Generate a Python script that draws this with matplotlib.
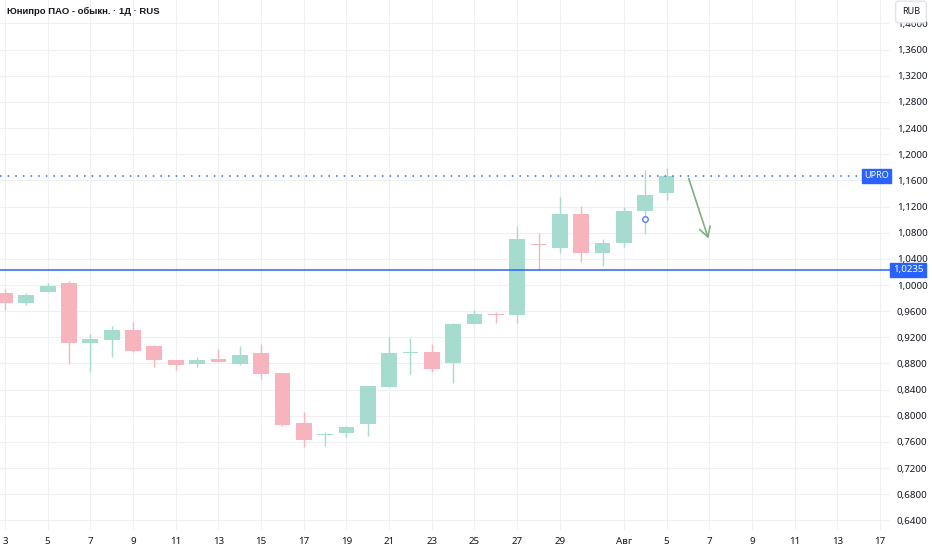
import matplotlib
matplotlib.use("Agg")
from matplotlib import pyplot as plt
import matplotlib.transforms as mtransforms

# daily candles, UPRO
opens = [0.9873, 0.9720, 0.9898, 1.0026, 0.9118, 0.9160, 0.9312, 0.9072, 0.8853, 0.8787,
         0.8873, 0.8792, 0.8965, 0.8650, 0.7885, 0.7712, 0.7732, 0.7870, 0.8445, 0.8965,
         0.8970, 0.8803, 0.9404, 0.9550, 0.9541, 1.0630, 1.0570, 1.1086, 1.0494, 1.0638,
         1.1136, 1.1402]
highs = [0.9939, 0.9880, 1.0026, 1.0060, 0.9250, 0.9378, 0.9440, 0.9078, 0.8860, 0.8904,
         0.9017, 0.9067, 0.9098, 0.8650, 0.8054, 0.7750, 0.7850, 0.8456, 0.9200, 0.9185,
         0.9098, 0.9420, 0.9620, 0.9580, 1.0902, 1.0800, 1.1340, 1.1208, 1.0703, 1.1188,
         1.1758, 1.1784]
lows = [0.9618, 0.9690, 0.9890, 0.8790, 0.8675, 0.8894, 0.8970, 0.8750, 0.8700, 0.8742,
        0.8820, 0.8780, 0.8558, 0.7850, 0.7518, 0.7537, 0.7680, 0.7690, 0.8445, 0.8639,
        0.8674, 0.8497, 0.9400, 0.9414, 0.9414, 1.0230, 1.0490, 1.0356, 1.0295, 1.0576,
        1.0780, 1.1300]
closes = [0.9720, 0.9847, 0.9985, 0.9108, 0.9170, 0.9312, 0.8996, 0.8853, 0.8777, 0.8853,
          0.8823, 0.8930, 0.8635, 0.7860, 0.7630, 0.7722, 0.7834, 0.8456, 0.8965, 0.8980,
          0.8716, 0.9404, 0.9557, 0.9535, 1.0703, 1.0615, 1.1086, 1.0490, 1.0638, 1.1136,
          1.1380, 1.1667]

tick_pos = [0, 2, 4, 6, 8, 10, 12, 14, 16, 18, 20, 22, 24, 26, 29, 31, 33, 35, 37, 39, 41]
tick_labels = ['3', '5', '7', '9', '11', '13', '15', '17', '19', '21', '23', '25', '27',
               '29', 'Авг', '5', '7', '9', '11', '13', '17']
price_ticks = [0.64 + 0.04 * k for k in range(20)]

level_price = 1.0235
last_price = 1.1667
event_bar, event_price = 30, 1.1009
arrow_from = (32, 1.1667)
arrow_to = (33, 1.0670)

GREEN = '#a6dbd0'
RED = '#f8b4bc'
BLUE = '#2962ff'
TEXT = '#131722'

plt.rcParams['font.family'] = ['Noto Sans', 'DejaVu Sans']

fig = plt.figure(figsize=(9.32, 5.5), dpi=100)
ax = fig.add_axes([0, 20 / 550, 890 / 932, 530 / 550])
ax.set_xlim(-0.234, 41.47)
ax.set_ylim(0.6254, 1.4358)
for s in ax.spines.values():
    s.set_visible(False)

ax.set_xticks(tick_pos)
ax.set_xticklabels(tick_labels)
ax.yaxis.tick_right()
ax.set_yticks(price_ticks)
ax.set_yticklabels([f"{p:.4f}".replace('.', ',') for p in price_ticks])
ax.tick_params(length=0, labelsize=7, labelcolor=TEXT)
ax.tick_params(axis='y', pad=5)
ax.tick_params(axis='x', pad=5)
ax.grid(True, color='#eef0f4', linewidth=0.8)
ax.set_axisbelow(True)

# candles
for i in range(len(opens)):
    o, h, l, c = opens[i], highs[i], lows[i], closes[i]
    col = GREEN if c >= o else RED
    ax.vlines(i, l, h, color=col, linewidth=1, zorder=2)
    body = max(abs(c - o), 0.0015)
    ax.bar(i, body, bottom=min(o, c), width=0.74, color=col, zorder=3)

# price lines
ax.axhline(level_price, color=BLUE, linewidth=1.1, zorder=4)
ax.axhline(last_price, color=BLUE, linewidth=1.1, linestyle=(0, (1, 4)), zorder=4)

trans = mtransforms.blended_transform_factory(ax.transAxes, ax.transData)
ax.text(0.999, last_price, 'UPRO', transform=trans, ha='right', va='center',
        fontsize=6.5, color='white', fontweight='bold', zorder=6,
        bbox=dict(boxstyle='square,pad=0.25', fc=BLUE, ec=BLUE))
ax.text(1.003, level_price, '1,0235', transform=trans, ha='left', va='center',
        fontsize=7, color='white', fontweight='bold', zorder=6, clip_on=False,
        bbox=dict(boxstyle='square,pad=0.25', fc=BLUE, ec=BLUE))

# event marker
ax.plot(event_bar, event_price, 'o', ms=4, mfc='white', mec='#5b7cf5', mew=1, zorder=5)

# forecast arrow
ax.annotate('', xy=arrow_to, xytext=arrow_from,
            arrowprops=dict(arrowstyle='->,head_length=0.7,head_width=0.4',
                            color='#7fb07d', lw=1.2), zorder=5)

fig.text(7 / 932, 1 - 11 / 550, 'Юнипро ПАО - обыкн. · 1Д · RUS', ha='left', va='center',
         fontsize=6.8, color=TEXT, fontweight='bold',
         family=['Liberation Sans', 'DejaVu Sans'])
fig.text(911 / 932, 1 - 12 / 550, 'RUB', ha='center', va='center', fontsize=6.5, color=TEXT,
         zorder=10,
         bbox=dict(boxstyle='round,pad=0.7,rounding_size=0.3', fc='white', ec='#e0e3eb'))

fig.savefig('out.png', dpi=100)
